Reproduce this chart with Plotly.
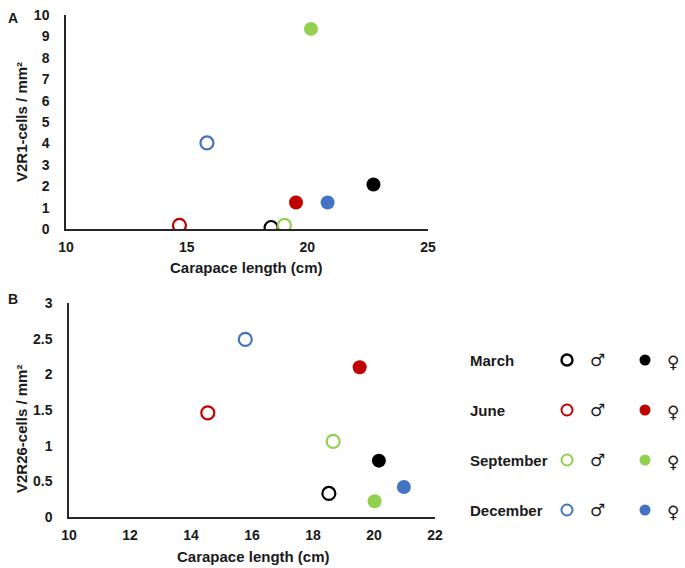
import plotly.graph_objects as go

months = ["March", "June", "September", "December"]
colors = ["#000000", "#C00000", "#92D050", "#4472C4"]

# Panel A: V2R1-cells / mm2
a_male_x = [18.50, 14.70, 19.05, 15.84]
a_male_y = [0.07, 0.17, 0.17, 4.02]
a_female_x = [22.74, 19.53, 20.15, 20.84]
a_female_y = [2.08, 1.24, 9.35, 1.24]

# Panel B: V2R26-cells / mm2
b_male_x = [18.52, 14.55, 18.66, 15.78]
b_male_y = [0.33, 1.46, 1.06, 2.49]
b_female_x = [20.16, 19.53, 20.02, 20.98]
b_female_y = [0.79, 2.10, 0.22, 0.42]

a_xticks = [10, 15, 20, 25]
a_yticks = list(range(0, 11))
b_xticks = [10, 12, 14, 16, 18, 20, 22]
b_yticks = [0, 0.5, 1, 1.5, 2, 2.5, 3]

FONT = "Liberation Sans, Arial, sans-serif"
TXT = "#1a1a1a"
W, H = 685, 568
fig = go.Figure()

def add_points(xs, ys, xa, ya, filled):
    for i in range(len(months)):
        if filled:
            m = dict(symbol="circle", size=14, color=colors[i], line=dict(width=0))
        else:
            m = dict(symbol="circle-open", size=13, color=colors[i], line=dict(width=2.2))
        fig.add_trace(go.Scatter(x=[xs[i]], y=[ys[i]], mode="markers", marker=m,
                                 xaxis=xa, yaxis=ya, showlegend=False, hoverinfo="skip"))

add_points(a_male_x, a_male_y, "x", "y", False)
add_points(a_female_x, a_female_y, "x", "y", True)
add_points(b_male_x, b_male_y, "x2", "y2", False)
add_points(b_female_x, b_female_y, "x2", "y2", True)

# legend key markers on a hidden axis
for i, mth in enumerate(months):
    fig.add_trace(go.Scatter(x=[0], y=[i], mode="markers", xaxis="x3", yaxis="y3",
                             marker=dict(symbol="circle-open", size=11, color=colors[i],
                                         line=dict(width=2.4 if i == 0 else 2)),
                             showlegend=False, hoverinfo="skip"))
    fig.add_trace(go.Scatter(x=[1], y=[i], mode="markers", xaxis="x3", yaxis="y3",
                             marker=dict(symbol="circle", size=11, color=colors[i]),
                             showlegend=False, hoverinfo="skip"))

def ax(domain, rng, ticks, anchor, is_x):
    return dict(domain=domain, range=rng, anchor=anchor, automargin=False,
                showgrid=False, zeroline=False, showline=True, linecolor="#262626",
                linewidth=1.5, ticks="", tickmode="array", tickvals=ticks,
                ticktext=[f"<b>{v:g}</b>" for v in ticks],
                ticklabelstandoff=4 if is_x else 12,
                tickfont=dict(family=FONT, size=14, color=TXT))

def pa(text, px, py, size=15, angle=0, xanchor="center"):
    return dict(text=text, x=px / W, y=1 - py / H, xref="paper", yref="paper",
                showarrow=False, textangle=angle, xanchor=xanchor, yanchor="middle",
                font=dict(family=FONT, size=size, color=TXT))

annotations = [
    pa("<b>A</b>", 13, 18, size=14),
    pa("<b>B</b>", 13, 299, size=14),
    pa("<b>Carapace length (cm)</b>", 246, 267),
    pa("<b>Carapace length (cm)</b>", 253, 556),
    pa("<b>V2R1-cells / mm²</b>", 21, 122, angle=-90),
    pa("<b>V2R26-cells / mm²</b>", 21, 429, angle=-90),
]
for i, mth in enumerate(months):
    annotations.append(dict(text=f"<b>{mth}</b>", x=0, y=i, xref="x3", yref="y3", xshift=-99,
                            xanchor="left", yanchor="middle", showarrow=False,
                            font=dict(family=FONT, size=15, color=TXT)))
    annotations.append(dict(text="♂", x=0, y=i, xref="x3", yref="y3", xshift=30,
                            xanchor="center", yanchor="middle", showarrow=False,
                            font=dict(family="DejaVu Sans", size=17, color=TXT)))
    annotations.append(dict(text="♀", x=1, y=i, xref="x3", yref="y3", xshift=28, yshift=-2,
                            xanchor="center", yanchor="middle", showarrow=False,
                            font=dict(family="DejaVu Sans", size=17, color=TXT)))

fig.update_layout(
    width=W, height=H, margin=dict(l=0, r=0, t=0, b=0),
    paper_bgcolor="white", plot_bgcolor="white", showlegend=False,
    xaxis=ax([66 / W, 428 / W], [10, 25], a_xticks, "y", True),
    yaxis=ax([1 - 229 / H, 1 - 15 / H], [0, 10], a_yticks, "x", False),
    xaxis2=ax([69 / W, 435 / W], [10, 22], b_xticks, "y2", True),
    yaxis2=ax([1 - 517 / H, 1 - 303 / H], [0, 3], b_yticks, "x2", False),
    xaxis3=dict(domain=[528 / W, 684 / W], range=[-0.5, 1.5], visible=False, anchor="y3"),
    yaxis3=dict(domain=[1 - 535 / H, 1 - 335 / H], range=[3.5, -0.5], visible=False, anchor="x3"),
    annotations=annotations,
)

fig.write_html("out.html", config={"displayModeBar": False},
               post_script="document.body.style.margin='0px';document.body.style.overflow='hidden';")
